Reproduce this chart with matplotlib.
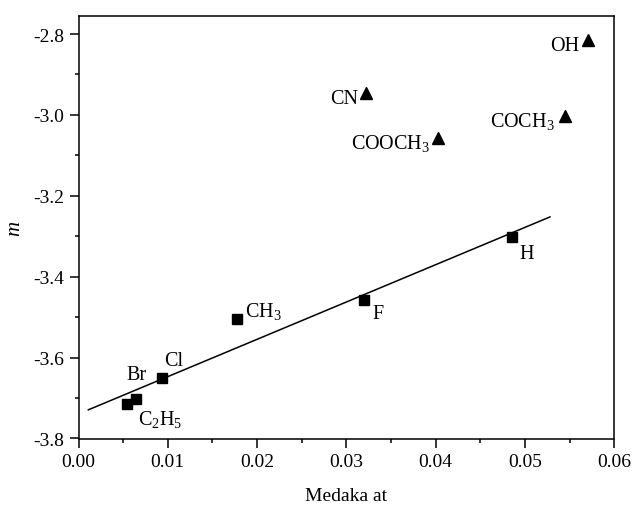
import numpy as np
import matplotlib
matplotlib.use("Agg")
import matplotlib.pyplot as plt

plt.rcParams['font.family'] = ['Liberation Serif', 'DejaVu Serif']
plt.rcParams['mathtext.fontset'] = 'custom'
plt.rcParams['mathtext.rm'] = 'Liberation Serif'
plt.rcParams['mathtext.it'] = 'Liberation Serif:italic'

# squares (fitted group)
sq_labels = ['C$_2$H$_5$', 'Br', 'Cl', 'CH$_3$', 'F', 'H']
sq_x = [0.0054, 0.0064, 0.00938, 0.01772, 0.0320, 0.04851]
sq_y = [-3.714, -3.703, -3.651, -3.505, -3.458, -3.303]

# triangles (outliers)
tr_labels = ['CN', 'COOCH$_3$', 'COCH$_3$', 'OH']
tr_x = [0.0322, 0.04026, 0.05448, 0.0570]
tr_y = [-2.945, -3.057, -3.002, -2.815]

fit_range = [0.0011, 0.0528]

xlabel = 'Medaka at'
ylabel = 'm'

fig = plt.figure(figsize=(6.33, 5.06), dpi=100)
ax = fig.add_axes([78.5/633, 1-439.5/506, (614.3-78.5)/633, (439.5-16.7)/506])

ax.plot(sq_x, sq_y, 's', color='black', markersize=7, zorder=3)
ax.plot(tr_x, tr_y, '^', color='black', markersize=8.5, zorder=3)

coef = np.polyfit(sq_x, sq_y, 1)
lx = np.array(fit_range)
ax.plot(lx, np.polyval(coef, lx), color='black', lw=1.1)

fs = 14.5
sq_off = [(11, -20, 'left'), (11, 20, 'right'), (2, 13, 'left'), (8, 3, 'left'), (8, -18, 'left'), (8, -21, 'left')]
for lab, x, y, (dx, dy, ha) in zip(sq_labels, sq_x, sq_y, sq_off):
    ax.annotate(lab, (x, y), xytext=(dx, dy), textcoords='offset pixels',
                ha=ha, va='baseline', fontsize=fs)
tr_off = [(-8, -10), (-8, -10), (-10, -10), (-8, -10)]
for lab, x, y, (dx, dy) in zip(tr_labels, tr_x, tr_y, tr_off):
    ax.annotate(lab, (x, y), xytext=(dx, dy), textcoords='offset pixels',
                ha='right', va='baseline', fontsize=fs)

ax.set_xlim(0, 0.06)
ax.set_ylim(-3.8, -2.8 + (35 - 16.7) / 404)
ax.set_xticks(np.arange(0, 0.0601, 0.01))
ax.set_xticks(np.arange(0, 0.0601, 0.005), minor=True)
ax.set_yticks(np.arange(-3.8, -2.79, 0.2))
ax.set_yticks(np.arange(-3.8, -2.75, 0.1), minor=True)
ax.xaxis.set_major_formatter(matplotlib.ticker.FormatStrFormatter('%.2f'))
ax.yaxis.set_major_formatter(matplotlib.ticker.FormatStrFormatter('%.1f'))

ax.tick_params(which='both', direction='out', top=False, right=False, width=1.1, labelsize=14)
ax.tick_params(which='major', length=6.5, pad=4)
ax.tick_params(which='minor', length=3.2)
for s in ax.spines.values():
    s.set_linewidth(1.1)

ax.set_xlabel(xlabel, fontsize=14, labelpad=12)
ax.set_ylabel(ylabel, fontsize=15, style='italic', labelpad=6)

fig.savefig('out.png', dpi=100)
